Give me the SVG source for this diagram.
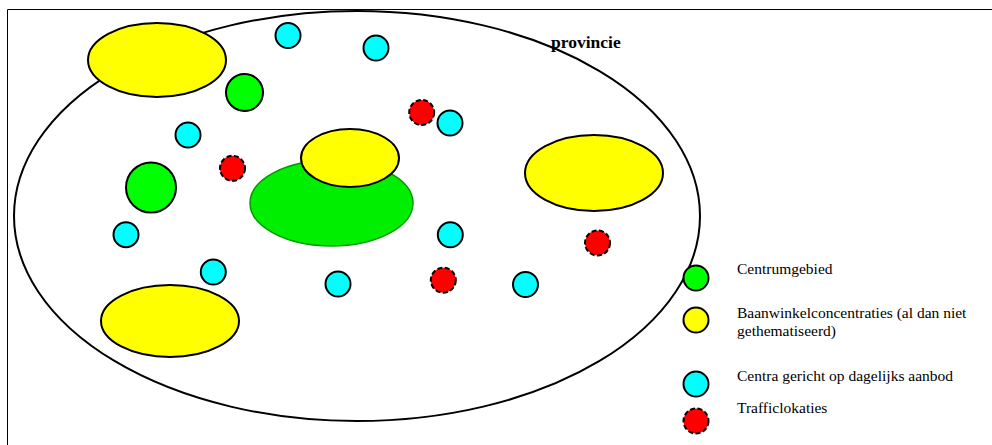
<svg xmlns="http://www.w3.org/2000/svg" width="992" height="445" viewBox="0 0 992 445">
<style>
.frame{stroke:#000;stroke-width:1;fill:none}
.prov{fill:none;stroke:#000;stroke-width:2}
.yel{fill:#ffff00;stroke:#000;stroke-width:2}
.grn{fill:#00ff00;stroke:#000;stroke-width:2}
.big-grn{fill:#00ee00;stroke:#009900;stroke-width:1.5}
.cyn{fill:#00ffff;stroke:#000;stroke-width:2}
.red{fill:#ff0000;stroke:#000;stroke-width:2;stroke-dasharray:5 2.5}
text{font-family:"Liberation Serif","Times New Roman",serif;fill:#000}
.lbl{font-size:15.5px}
.title{font-size:17.5px;font-weight:bold}
</style>
<rect width="992" height="445" fill="#fff"/>
<g id="frame">
<path class="frame" d="M7.5 445 V9.5 H992"/>
</g>
<g id="provincie">
<ellipse class="prov" cx="357" cy="216" rx="343" ry="205"/>
<text class="title" x="551" y="48">provincie</text>
</g>
<g id="connectors"></g>
<g id="centrum-groot">
<ellipse class="big-grn" cx="331.5" cy="203" rx="81.5" ry="43"/>
</g>
<g id="baan-midden"><ellipse class="yel" cx="350" cy="158" rx="49" ry="29"/></g>
<g id="baan-linksboven"><ellipse class="yel" cx="157" cy="60" rx="69" ry="37"/></g>
<g id="baan-rechts"><ellipse class="yel" cx="594" cy="173" rx="69" ry="38"/></g>
<g id="baan-linksonder"><ellipse class="yel" cx="170" cy="321" rx="69" ry="36"/></g>
<g id="centrum-1"><circle class="grn" cx="244.5" cy="92.5" r="18.5"/></g>
<g id="centrum-2"><circle class="grn" cx="151" cy="187.5" r="25"/></g>
<g id="dag-1"><circle class="cyn" cx="288" cy="35.5" r="12.5"/></g>
<g id="dag-2"><circle class="cyn" cx="376" cy="48" r="12.5"/></g>
<g id="dag-3"><circle class="cyn" cx="188" cy="135" r="12.5"/></g>
<g id="dag-4"><circle class="cyn" cx="450" cy="123" r="12.5"/></g>
<g id="dag-5"><circle class="cyn" cx="126" cy="234.7" r="12.5"/></g>
<g id="dag-6"><circle class="cyn" cx="213.3" cy="272" r="12.5"/></g>
<g id="dag-7"><circle class="cyn" cx="450.3" cy="234.8" r="12.5"/></g>
<g id="dag-8"><circle class="cyn" cx="338" cy="284" r="12.5"/></g>
<g id="dag-9"><circle class="cyn" cx="525.5" cy="284.5" r="12.5"/></g>
<g id="traffic-1"><circle class="red" cx="421.7" cy="112.5" r="12.5"/></g>
<g id="traffic-2"><circle class="red" cx="232.5" cy="168.3" r="12.5"/></g>
<g id="traffic-3"><circle class="red" cx="443.3" cy="280.2" r="12.5"/></g>
<g id="traffic-4"><circle class="red" cx="597.5" cy="243" r="12.5"/></g>
<g id="legend-centrum">
<circle class="grn" cx="696" cy="278" r="12.5"/>
<text class="lbl" x="737" y="274">Centrumgebied</text>
</g>
<g id="legend-baan">
<circle class="yel" cx="696" cy="320" r="12.5"/>
<text class="lbl" x="737" y="318">Baanwinkelconcentraties (al dan niet</text>
<text class="lbl" x="737" y="336">gethematiseerd)</text>
</g>
<g id="legend-dag">
<circle class="cyn" cx="696" cy="384" r="12.5"/>
<text class="lbl" x="737" y="381">Centra gericht op dagelijks aanbod</text>
</g>
<g id="legend-traffic">
<circle class="red" cx="696" cy="421" r="12.5"/>
<text class="lbl" x="737" y="413">Trafficlokaties</text>
</g>
</svg>
